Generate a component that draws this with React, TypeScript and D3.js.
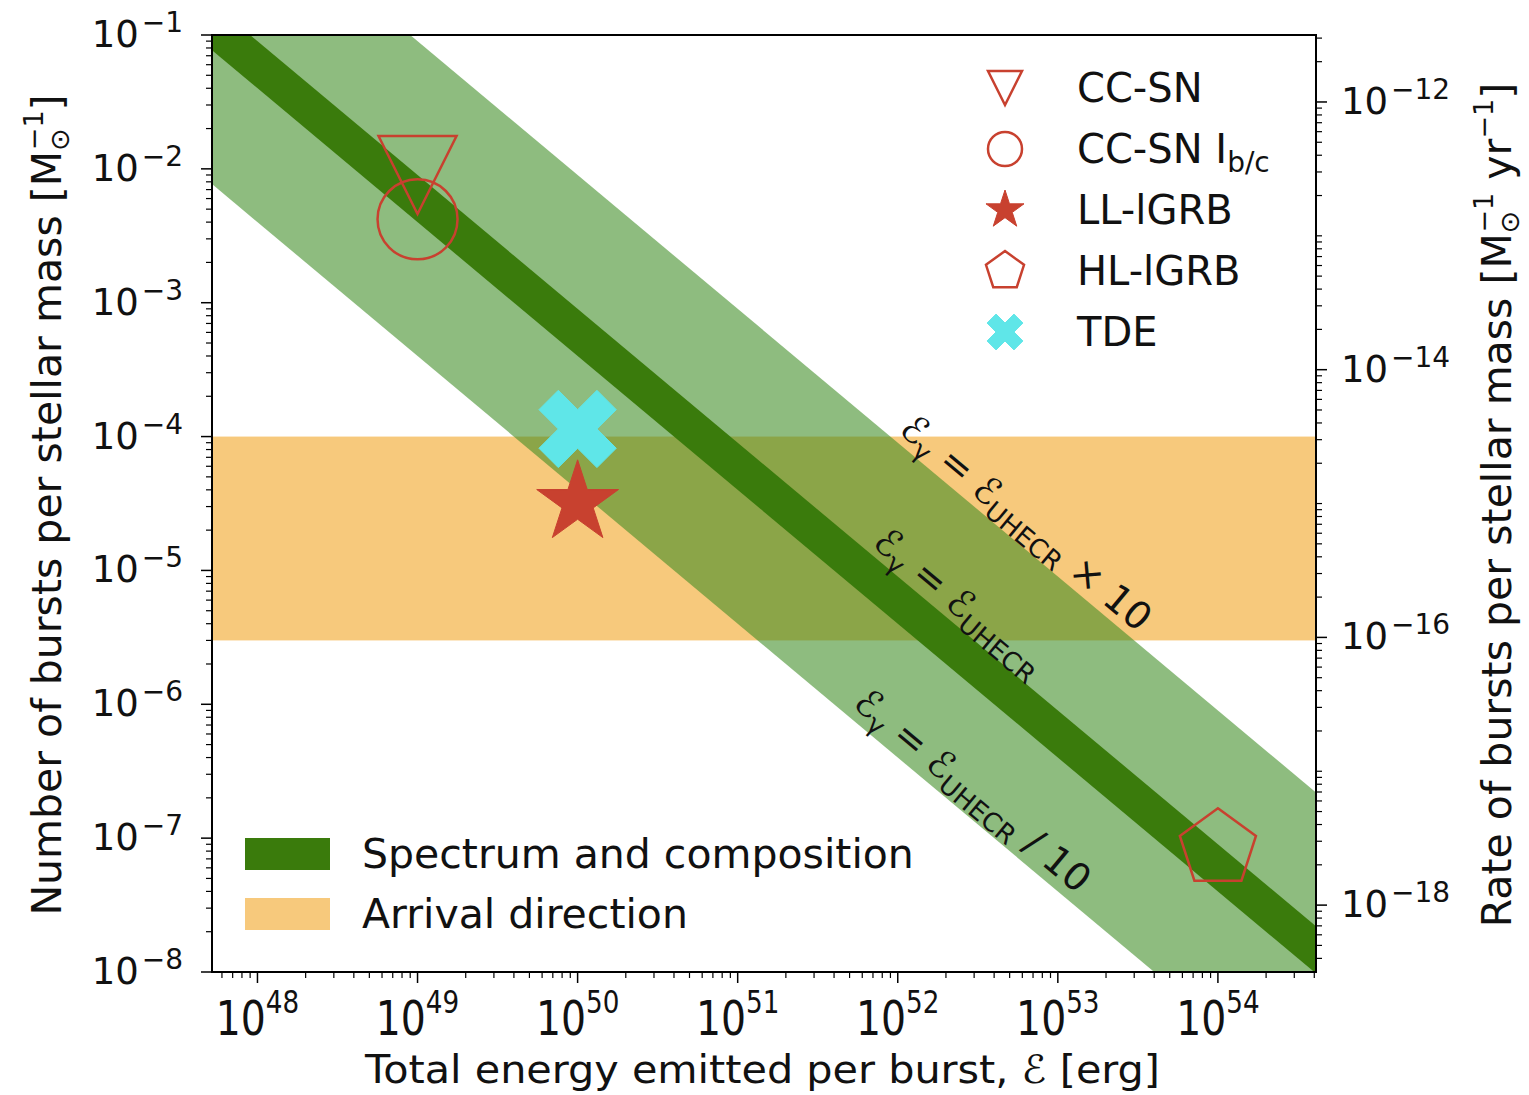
import React from 'react';
import * as d3 from 'd3';

// Axis extents
const energyDomain = [5.2e47, 4.1e54];
const countDomain = [1e-1, 1e-8];
const xTickExponents = [48, 49, 50, 51, 52, 53, 54];
const yTickExponents = [-1, -2, -3, -4, -5, -6, -7, -8];
const rightTickExponents = [-12, -14, -16, -18];
// bursts per stellar mass -> bursts per stellar mass per year
const rateFactor = 1 / 3.16e10;

// Allowed regions: N × E limits (erg per solar mass) and N limits
const spectrumBand = [4e46, 9e46];
const spectrumWideBand = [4e45, 9e47];
const arrivalBand = [3e-6, 1e-4];

// Source classes
const sourceNames = ['CC-SN', 'CC-SN I', 'LL-lGRB', 'HL-lGRB', 'TDE'];
const sourceSubs = ['', 'b/c', '', '', ''];
const sourceEnergy = [1e49, 1e49, 1e50, 1e54, 1e50];
const sourceCount = [9e-3, 4.2e-3, 3.2e-5, 8.4e-8, 1.14e-4];
const sourceShapes = ['triangleDown', 'circle', 'star', 'pentagon', 'cross'];

// Band annotations: line constant (N × E), energy where the text starts, suffix
const bandLabelConst = [9e47, 9e46, 4e45];
const bandLabelStart = [9.3e51, 6.4e51, 4.7e51];
const bandLabelSuffix = [' × 10', '', ' / 10'];
const bandLabelOffset = [8, 7, 10];

const W = 1529;
const H = 1095;
const left = 212, right = 1316, top = 35, bottom = 972;

const red = '#c8412f';
const cyan = '#5fe6e8';
const darkGreen = '#3a7b0c';
const orange = '#f7c97c';

const x = d3.scaleLog().domain(energyDomain).range([left, right]);
const y = d3.scaleLog().domain(countDomain).range([top, bottom]);
const yRight = d3.scaleLog()
  .domain([countDomain[0] * rateFactor, countDomain[1] * rateFactor])
  .range([top, bottom]);

function markerPath(shape: string, s: number): string {
  if (shape === 'triangleDown') {
    return `M0,${s}L${-s},${-s}L${s},${-s}Z`;
  }
  if (shape === 'circle') {
    return `M${s},0A${s},${s} 0 1,1 ${-s},0A${s},${s} 0 1,1 ${s},0Z`;
  }
  if (shape === 'star') {
    const pts: string[] = [];
    for (let i = 0; i < 10; i++) {
      const r = i % 2 === 0 ? s : s * 0.381966;
      const a = -Math.PI / 2 + (i * Math.PI) / 5;
      pts.push(`${r * Math.cos(a)},${r * Math.sin(a)}`);
    }
    return 'M' + pts.join('L') + 'Z';
  }
  if (shape === 'pentagon') {
    const pts: string[] = [];
    for (let i = 0; i < 5; i++) {
      const a = -Math.PI / 2 + (i * 2 * Math.PI) / 5;
      pts.push(`${s * Math.cos(a)},${s * Math.sin(a)}`);
    }
    return 'M' + pts.join('L') + 'Z';
  }
  // filled X: a plus sign rotated by 45 degrees
  const w = s / 3;
  const plus = [
    [w, w], [w, s], [-w, s], [-w, w], [-s, w], [-s, -w],
    [-w, -w], [-w, -s], [w, -s], [w, -w], [s, -w], [s, w],
  ];
  const c = Math.SQRT1_2;
  return 'M' + plus.map(([px, py]) => `${(px - py) * c},${(px + py) * c}`).join('L') + 'Z';
}

function Marker({ shape, cx, cy, s }: { shape: string; cx: number; cy: number; s: number }) {
  const d = markerPath(shape, s);
  if (shape === 'star') {
    return <path d={d} transform={`translate(${cx},${cy})`} fill={red} stroke={red} strokeWidth={1} />;
  }
  if (shape === 'cross') {
    return <path d={d} transform={`translate(${cx},${cy})`} fill={cyan} stroke={cyan} strokeWidth={1} />;
  }
  return <path d={d} transform={`translate(${cx},${cy})`} fill="none" stroke={red} strokeWidth={2.5} />;
}

function bandPolygon(lo: number, hi: number): string {
  const [e0, e1] = energyDomain;
  const pts = [
    [x(e0), y(hi / e0)],
    [x(e1), y(hi / e1)],
    [x(e1), y(lo / e1)],
    [x(e0), y(lo / e0)],
  ];
  return 'M' + pts.map((p) => p.join(',')).join('L') + 'Z';
}

function minorValues(lo: number, hi: number, dLo: number, dHi: number): number[] {
  const out: number[] = [];
  for (let k = dLo; k <= dHi; k++) {
    for (let m = 2; m <= 9; m++) {
      const v = m * Math.pow(10, k);
      if (v >= lo && v <= hi) out.push(v);
    }
  }
  return out;
}

const fontMain = 'DejaVu Sans, sans-serif';

export default function App() {
  const xMinor = minorValues(energyDomain[0], energyDomain[1], 47, 54);
  const yMinor = minorValues(countDomain[1], countDomain[0], -9, -1);
  const rLo = countDomain[1] * rateFactor;
  const rHi = countDomain[0] * rateFactor;
  const rMinor: number[] = [];
  for (let k = -20; k <= -10; k++) {
    for (let m = 1; m <= 9; m++) {
      const v = m * Math.pow(10, k);
      const isMajor = m === 1 && rightTickExponents.includes(k);
      if (!isMajor && v >= rLo && v <= rHi) rMinor.push(v);
    }
  }

  return (
    <svg width={W} height={H} style={{ position: 'absolute', left: 0, top: 0, background: '#fff' }}
      fontFamily={fontMain}>
      <defs>
        <clipPath id="plotArea">
          <rect x={left} y={top} width={right - left} height={bottom - top} />
        </clipPath>
      </defs>

      <g clipPath="url(#plotArea)">
        <rect x={left} y={y(arrivalBand[1])} width={right - left}
          height={y(arrivalBand[0]) - y(arrivalBand[1])} fill={orange} />
        <path d={bandPolygon(spectrumWideBand[0], spectrumWideBand[1])} fill="rgb(60,140,35)" fillOpacity={0.58} />
        <path d={bandPolygon(spectrumBand[0], spectrumBand[1])} fill={darkGreen} />

        {bandLabelConst.map((c, i) => {
          const e0 = bandLabelStart[i];
          const e1 = e0 * 10;
          const x0 = x(e0), y0 = y(c / e0);
          const ang = (Math.atan2(y(c / e1) - y0, x(e1) - x0) * 180) / Math.PI;
          return (
            <g key={i} transform={`translate(${x0},${y0}) rotate(${ang})`}>
              <text x={0} y={-bandLabelOffset[i]} fontSize={38} fill="#111">
                ℰ<tspan fontSize={26} dy={8}>γ</tspan>
                <tspan dy={-8}> = ℰ</tspan>
                <tspan fontSize={26} dy={8}>UHECR</tspan>
                <tspan dy={-8}>{bandLabelSuffix[i]}</tspan>
              </text>
            </g>
          );
        })}

        {sourceNames.map((n, i) => {
          const sizes: Record<string, number> = { triangleDown: 39, circle: 40, star: 43, pentagon: 40, cross: 41 };
          return <Marker key={n} shape={sourceShapes[i]} cx={x(sourceEnergy[i])} cy={y(sourceCount[i])} s={sizes[sourceShapes[i]]} />;
        })}
      </g>

      {/* frame */}
      <rect x={left} y={top} width={right - left} height={bottom - top} fill="none" stroke="#000" strokeWidth={2} />

      {/* bottom axis */}
      {xTickExponents.map((k) => (
        <line key={'xt' + k} x1={x(Math.pow(10, k))} x2={x(Math.pow(10, k))} y1={bottom} y2={bottom + 11} stroke="#000" strokeWidth={1.5} />
      ))}
      {xMinor.map((v, i) => (
        <line key={'xm' + i} x1={x(v)} x2={x(v)} y1={bottom} y2={bottom + 6} stroke="#000" strokeWidth={1.2} />
      ))}
      {xTickExponents.map((k) => (
        <g key={'xl' + k} transform={`translate(${x(Math.pow(10, k))},1035) scale(0.82,1)`}>
          <text textAnchor="middle" fontSize={48} fill="#111">
            10<tspan fontSize={32} dy={-22}>{k}</tspan>
          </text>
        </g>
      ))}

      {/* left axis */}
      {yTickExponents.map((k) => (
        <line key={'yt' + k} x1={left - 11} x2={left} y1={y(Math.pow(10, k))} y2={y(Math.pow(10, k))} stroke="#000" strokeWidth={1.5} />
      ))}
      {yMinor.map((v, i) => (
        <line key={'ym' + i} x1={left - 6} x2={left} y1={y(v)} y2={y(v)} stroke="#000" strokeWidth={1.2} />
      ))}
      {yTickExponents.map((k) => (
        <text key={'yl' + k} x={183} y={y(Math.pow(10, k)) + 12} textAnchor="end" fontSize={37} fill="#111">
          10<tspan fontSize={28} dx={3} dy={-15}>{'\u2212' + Math.abs(k)}</tspan>
        </text>
      ))}

      {/* right axis */}
      {rightTickExponents.map((k) => (
        <line key={'rt' + k} x1={right} x2={right + 11} y1={yRight(Math.pow(10, k))} y2={yRight(Math.pow(10, k))} stroke="#000" strokeWidth={1.5} />
      ))}
      {rMinor.map((v, i) => (
        <line key={'rm' + i} x1={right} x2={right + 6} y1={yRight(v)} y2={yRight(v)} stroke="#000" strokeWidth={1.2} />
      ))}
      {rightTickExponents.map((k) => (
        <text key={'rl' + k} x={1341} y={yRight(Math.pow(10, k)) + 12} fontSize={37} fill="#111">
          10<tspan fontSize={28} dx={3} dy={-15}>{'\u2212' + Math.abs(k)}</tspan>
        </text>
      ))}

      {/* axis titles */}
      <text x={(365 + 1160) / 2} y={1083} textAnchor="middle" fontSize={39} fill="#111"
        textLength={795} lengthAdjust="spacingAndGlyphs">
        Total energy emitted per burst, ℰ [erg]
      </text>
      <g transform="translate(61,505) rotate(-90)">
        <text textAnchor="middle" fontSize={41} fill="#111">
          Number of bursts per stellar mass [M<tspan fontSize={27} dy={8}>⊙</tspan>
          <tspan fontSize={27} dx={-22} dy={-26}>{'\u22121'}</tspan>
          <tspan dy={18}>]</tspan>
        </text>
      </g>
      <g transform="translate(1511,505) rotate(-90)">
        <text textAnchor="middle" fontSize={41} fill="#111">
          Rate of bursts per stellar mass [M<tspan fontSize={27} dy={8}>⊙</tspan>
          <tspan fontSize={27} dx={-22} dy={-26}>{'\u22121'}</tspan>
          <tspan dy={18}> yr</tspan>
          <tspan fontSize={27} dy={-18}>{'\u22121'}</tspan>
          <tspan dy={18}>]</tspan>
        </text>
      </g>

      {/* source legend */}
      {sourceNames.map((n, i) => {
        const cy = 88 + i * 61;
        const sizes: Record<string, number> = { triangleDown: 17, circle: 17, star: 20, pentagon: 20, cross: 19 };
        return (
          <g key={'lg' + n}>
            <Marker shape={sourceShapes[i]} cx={1005} cy={cy} s={sizes[sourceShapes[i]]} />
            <text x={1077} y={cy + 14} fontSize={40} fill="#111">
              {n}
              {sourceSubs[i] && <tspan fontSize={28} dy={9}>{sourceSubs[i]}</tspan>}
            </text>
          </g>
        );
      })}

      {/* region legend */}
      <rect x={245} y={838} width={85} height={32} fill={darkGreen} />
      <text x={362} y={868} fontSize={41} fill="#111">Spectrum and composition</text>
      <rect x={245} y={898} width={85} height={32} fill={orange} />
      <text x={362} y={928} fontSize={41} fill="#111">Arrival direction</text>
    </svg>
  );
}
